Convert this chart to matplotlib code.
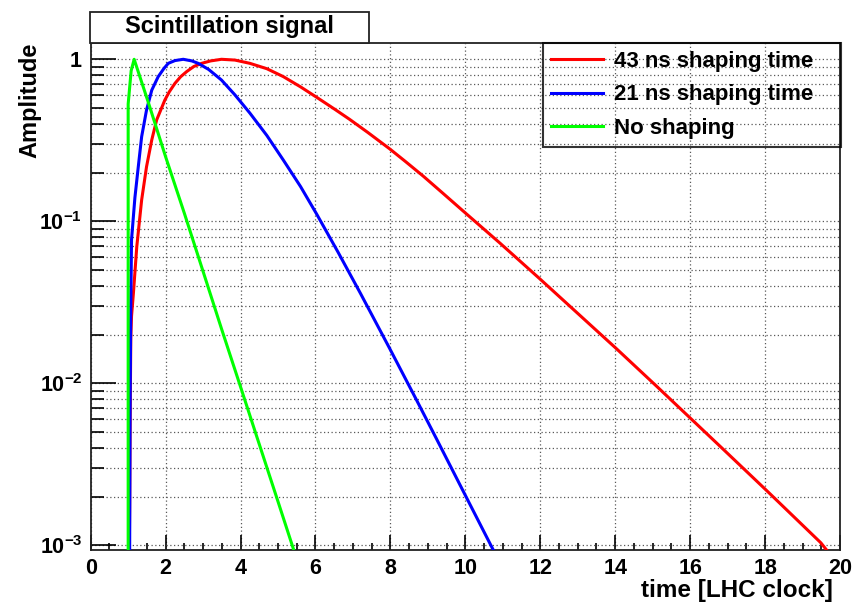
import matplotlib
matplotlib.use("Agg")
import matplotlib.pyplot as plt
from matplotlib.patches import Rectangle
from matplotlib.ticker import MultipleLocator, LogLocator, FixedLocator, FixedFormatter, NullFormatter

plt.rcParams['font.family'] = ['Liberation Sans', 'DejaVu Sans']
plt.rcParams['font.weight'] = 'bold'
plt.rcParams['mathtext.fontset'] = 'custom'
plt.rcParams['mathtext.rm'] = 'Liberation Sans:bold'
plt.rcParams['mathtext.bf'] = 'Liberation Sans:bold'

# curves (time in LHC clocks, amplitude normalised to 1)
t_43 = [1.03, 1.04, 1.05, 1.07, 1.09, 1.14, 1.23, 1.36, 1.49, 1.63, 1.76, 1.98, 2.1,
        2.25, 2.4, 2.56, 2.75, 2.96, 3.2, 3.49, 3.85, 4.25, 4.7, 5.14, 5.6, 6.03, 6.5,
        6.91, 7.4, 7.98, 8.4, 8.87, 9.4, 10.03, 10.91, 11.98, 13.0, 14.03, 15.09, 15.98,
        16.87, 18.03, 19.49, 19.65]
a_43 = [0.0009, 0.0017, 0.0047, 0.019, 0.026, 0.036, 0.0697, 0.1355, 0.217, 0.318,
        0.422, 0.561, 0.631, 0.711, 0.78, 0.839, 0.902, 0.944, 0.977, 1.0, 0.989, 0.944,
        0.875, 0.782, 0.676, 0.583, 0.494, 0.426, 0.353, 0.280, 0.234, 0.1905, 0.149,
        0.111, 0.0738, 0.0443, 0.0270, 0.01637, 0.00966, 0.00617, 0.00394, 0.00219,
        0.001035, 0.00093]

t_21 = [1.04, 1.05, 1.07, 1.09, 1.18, 1.27, 1.36, 1.49, 1.63, 1.80, 1.95, 2.07, 2.25,
        2.47, 2.7, 2.87, 3.15, 3.49, 3.85, 4.25, 4.7, 5.14, 5.6, 6.03, 6.6, 7.20, 7.98,
        8.69, 9.23, 10.03, 10.78]
a_21 = [0.0009, 0.006, 0.03, 0.077, 0.14, 0.217, 0.333, 0.486, 0.645, 0.78, 0.875,
        0.944, 0.982, 1.0, 0.977, 0.944, 0.865, 0.745, 0.603, 0.465, 0.339, 0.239, 0.164,
        0.1109, 0.0646, 0.0359, 0.0164, 0.00794, 0.00454, 0.00197, 0.000902]

t_none = [1.0, 1.0, 1.08, 1.16, 1.54, 2.0, 2.5, 3.0, 3.5, 4.0, 4.5, 5.0, 5.45]
a_none = [0.0009, 0.53, 0.85, 1.0, 0.54, 0.25, 0.112, 0.049, 0.0214, 0.0095, 0.0042,
          0.00186, 0.00089]

ytick_vals = [1e-3, 1e-2, 1e-1, 1]
ytick_text = [r'$\mathbf{10^{-3}}$', r'$\mathbf{10^{-2}}$', r'$\mathbf{10^{-1}}$', r'$\mathbf{1}$']

W, H = 855, 603
fig = plt.figure(figsize=(8.55, 6.03), dpi=100)
ax = fig.add_axes([90.7 / W, 1 - 550 / H, (840 - 90.7) / W, (550 - 42.7) / H])

ax.plot(t_43, a_43, color='#ff0000', lw=2.2, label='43 ns shaping time', zorder=3)
ax.plot(t_21, a_21, color='#0000ff', lw=2.2, label='21 ns shaping time', zorder=3)
ax.plot(t_none, a_none, color='#00ff00', lw=2.2, label='No shaping', zorder=3)

ax.set_yscale('log')
ax.set_xlim(0, 20)
ax.set_ylim(9.35e-4, 1.266)

ax.xaxis.set_major_locator(MultipleLocator(2))
ax.xaxis.set_minor_locator(MultipleLocator(0.5))
ax.yaxis.set_major_locator(FixedLocator(ytick_vals))
ax.yaxis.set_major_formatter(FixedFormatter(ytick_text))
ax.yaxis.set_minor_locator(LogLocator(base=10, subs=[2, 3, 4, 5, 6, 7, 8, 9], numticks=20))
ax.yaxis.set_minor_formatter(NullFormatter())

ax.tick_params(axis='x', which='major', direction='in', length=11, width=1.2, pad=6, labelsize=15.5)
ax.tick_params(axis='x', which='minor', direction='in', length=5, width=1.2)
ax.tick_params(axis='y', which='major', direction='in', length=18, width=1.2, pad=6, labelsize=15.5)
ax.tick_params(axis='y', which='minor', direction='in', length=9, width=1.2)
for lab in ax.get_xticklabels() + ax.get_yticklabels():
    lab.set_fontweight('bold')

ax.grid(True, axis='x', which='major', color='0.35', ls=(0, (1, 2)), lw=0.9)
ax.grid(True, axis='y', which='both', color='0.35', ls=(0, (1, 2)), lw=0.9)
for sp in ax.spines.values():
    sp.set_linewidth(1.3)
    sp.set_color('#222222')

leg = ax.legend(loc='upper left', bbox_to_anchor=(543 / W, 1 - 43 / H, (841 - 543) / W, 0),
                bbox_transform=fig.transFigure, mode='expand', borderaxespad=0,
                prop={'family': 'Liberation Sans', 'weight': 'bold', 'size': 16},
                handlelength=2.35, handletextpad=0.5, borderpad=0.35, labelspacing=0.57,
                fancybox=False, edgecolor='black')
leg.get_frame().set_facecolor('none')
leg.get_frame().set_linewidth(1.5)

# title box
fig.patches.append(Rectangle((90 / W, 1 - 42.7 / H), (369 - 90) / W, 31 / H,
                             transform=fig.transFigure, facecolor='white',
                             edgecolor='#222222', lw=1.3, zorder=5))
fig.text((90 + 369) / 2 / W, 1 - 27 / H, 'Scintillation signal', ha='center', va='center',
         fontsize=17, fontweight='bold', zorder=6)

fig.text(30 / W, 1 - 43 / H, 'Amplitude', rotation=90, ha='center', va='top',
         fontsize=17, fontweight='bold')
fig.text(833 / W, 1 - 590 / H, 'time [LHC clock]', ha='right', va='center',
         fontsize=17.5, fontweight='bold')

fig.savefig('out.png', dpi=100)
